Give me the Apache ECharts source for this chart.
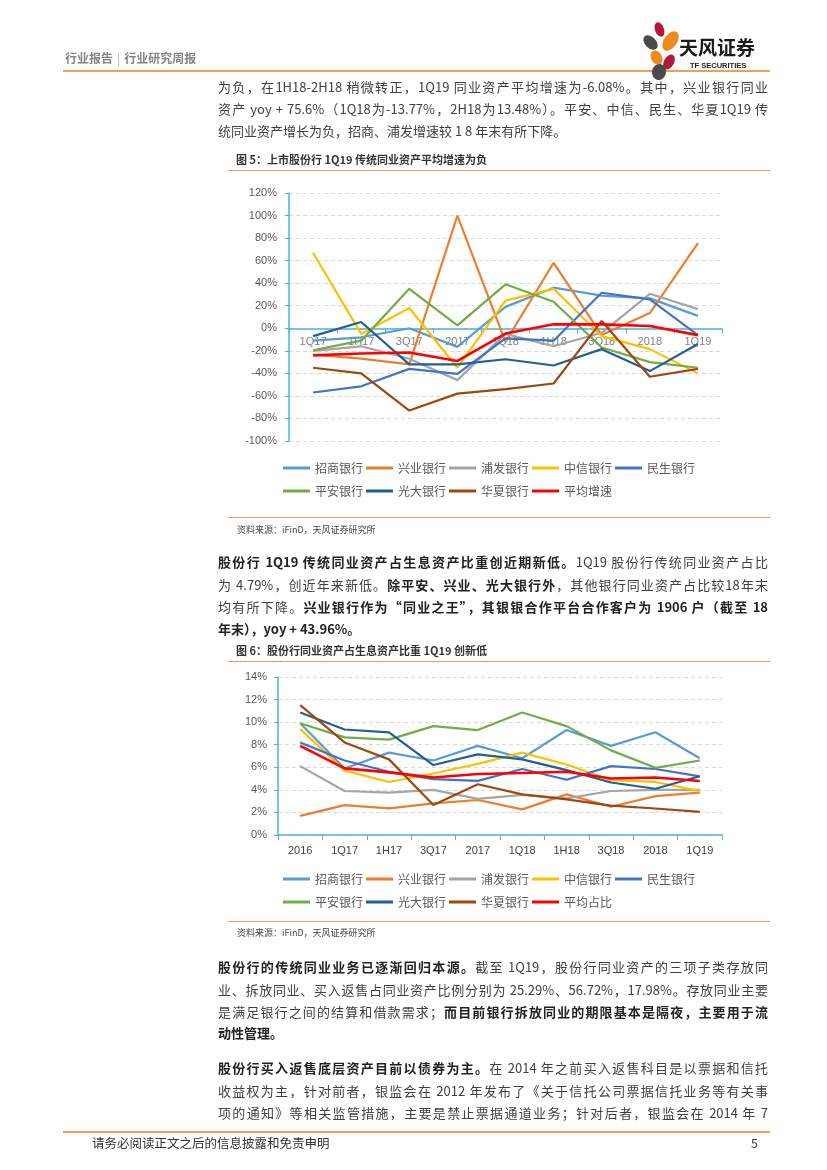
<!DOCTYPE html>
<html><head><meta charset="utf-8">
<script src="https://cdn.jsdelivr.net/npm/echarts@6/dist/echarts.min.js"></script>
<style>
html,body{margin:0;padding:0;background:#fff;}
body{width:827px;height:1170px;position:relative;overflow:hidden;font-family:"Noto Sans CJK SC","Noto Sans",sans-serif;color:#3a3a3a;}
#chart{position:absolute;left:0;top:0;width:827px;height:1170px;z-index:0;}
.t{position:absolute;z-index:2;white-space:nowrap;}
.ln{position:absolute;left:218px;width:550px;font-size:13px;line-height:20px;height:20px;white-space:nowrap;color:#404040;}
.j{text-align:justify;text-align-last:justify;}
b{color:#222;font-weight:bold;}
.hr{position:absolute;z-index:2;height:0;border-top:1.5px solid #F09A4C;}
.ftitle{position:absolute;left:236px;font-size:11px;font-weight:bold;color:#333;z-index:2;line-height:14px;}
.src{position:absolute;left:237px;font-size:9px;color:#444;z-index:2;line-height:12px;}
.pet{position:absolute;border-radius:50%;z-index:2;}
</style></head>
<body>
<div id="chart"></div>

<!-- header -->
<div class="t" style="left:65px;top:50px;font-size:12px;font-weight:bold;color:#858585;line-height:16px;">行业报告<span style="font-weight:normal;color:#aaa;margin:0 4px;">|</span>行业研究周报</div>
<div class="hr" style="left:63px;top:70px;width:707px;border-top:2px solid #F0A04E;"></div>
<!-- logo -->
<div class="pet" style="left:655px;top:22px;width:9px;height:15px;background:#B5173A;transform:rotate(-20deg);"></div>
<div class="pet" style="left:664px;top:30px;width:13px;height:22px;background:#F08A1C;transform:rotate(35deg);"></div>
<div class="pet" style="left:645px;top:34px;width:11px;height:17px;background:#4A4A4A;transform:rotate(-45deg);"></div>
<div class="pet" style="left:651px;top:50px;width:11px;height:15px;background:#F08A1C;transform:rotate(-30deg);"></div>
<div class="pet" style="left:664px;top:54px;width:10px;height:16px;background:#B5173A;transform:rotate(30deg);"></div>
<div class="pet" style="left:652px;top:64px;width:14px;height:16px;background:#4A4A4A;transform:rotate(10deg);"></div>
<div class="t" style="left:679px;top:35px;font-size:19px;font-weight:bold;color:#1a1a1a;line-height:24px;letter-spacing:0px;">天风证券</div>
<div class="t" style="left:690px;top:61px;font-size:7.5px;font-weight:bold;color:#222;line-height:10px;font-family:'Liberation Sans',sans-serif;">TF SECURITIES</div>

<!-- paragraph 1 -->
<div class="ln j" style="top:77px;">为负，在1H18-2H18 稍微转正，1Q19 同业资产平均增速为-6.08%。其中，兴业银行同业</div>
<div class="ln j" style="top:99px;">资产 yoy + 75.6%（1Q18为-13.77%，2H18为13.48%）。平安、中信、民生、华夏1Q19 传</div>
<div class="ln" style="top:121px;">统同业资产增长为负，招商、浦发增速较 1 8 年末有所下降。</div>

<div class="ftitle" style="top:152px;">图 5：上市股份行 1Q19 传统同业资产平均增速为负</div>
<div class="hr" style="left:228px;top:170px;width:542px;"></div>
<div class="hr" style="left:228px;top:517px;width:542px;"></div>
<div class="src" style="top:524px;">资料来源：iFinD，天风证券研究所</div>

<!-- paragraph 2 -->
<div class="ln j" style="top:552px;"><b>股份行 1Q19 传统同业资产占生息资产比重创近期新低。</b>1Q19 股份行传统同业资产占比</div>
<div class="ln j" style="top:575px;">为 4.79%，创近年来新低。<b>除平安、兴业、光大银行外</b>，其他银行同业资产占比较18年末</div>
<div class="ln j" style="top:597px;">均有所下降。<b>兴业银行作为“同业之王”，其银银合作平台合作客户为 1906 户（截至 18</b></div>
<div class="ln" style="top:619px;"><b>年末），yoy + 43.96%。</b></div>

<div class="ftitle" style="top:643px;">图 6：股份行同业资产占生息资产比重 1Q19 创新低</div>
<div class="hr" style="left:228px;top:661px;width:542px;"></div>
<div class="hr" style="left:228px;top:921px;width:542px;"></div>
<div class="src" style="top:927px;">资料来源：iFinD，天风证券研究所</div>

<!-- paragraph 3 -->
<div class="ln j" style="top:957px;"><b>股份行的传统同业业务已逐渐回归本源。</b>截至 1Q19，股份行同业资产的三项子类存放同</div>
<div class="ln j" style="top:980px;">业、拆放同业、买入返售占同业资产比例分别为 25.29%、56.72%，17.98%。存放同业主要</div>
<div class="ln j" style="top:1002px;">是满足银行之间的结算和借款需求；<b>而目前银行拆放同业的期限基本是隔夜，主要用于流</b></div>
<div class="ln" style="top:1023px;"><b>动性管理。</b></div>

<!-- paragraph 4 -->
<div class="ln j" style="top:1058px;"><b>股份行买入返售底层资产目前以债券为主。</b>在 2014 年之前买入返售科目是以票据和信托</div>
<div class="ln j" style="top:1081px;">收益权为主，针对前者，银监会在 2012 年发布了《关于信托公司票据信托业务等有关事</div>
<div class="ln j" style="top:1103px;">项的通知》等相关监管措施，主要是禁止票据通道业务；针对后者，银监会在 2014 年 7</div>

<!-- footer -->
<div class="hr" style="left:63px;top:1131px;width:707px;border-top:2px solid #F0A04E;"></div>
<div class="t" style="left:92px;top:1135px;font-size:12.5px;color:#333;line-height:16px;">请务必阅读正文之后的信息披露和免责申明</div>
<div class="t" style="left:751px;top:1135px;font-size:12.5px;color:#333;line-height:16px;">5</div>

<script>
// ---------- data ----------
const cats1 = ['1Q17','1H17','3Q17','2017','1Q18','1H18','3Q18','2018','1Q19'];
const cats2 = ['2016','1Q17','1H17','3Q17','2017','1Q18','1H18','3Q18','2018','1Q19'];
const bankNames = ['招商银行','兴业银行','浦发银行','中信银行','民生银行','平安银行','光大银行','华夏银行'];
const avgName1 = '平均增速';
const avgName2 = '平均占比';
const yTicks1 = { min: -100, max: 120, interval: 20 };
const yTicks2 = { min: 0, max: 14, interval: 2 };

// Fig 5: growth of traditional interbank assets (%)
const cmb1   = [-11, -8, 0, -16.5, 19, 36, 29, 26.5, 11];
const cib1   = [-23.5, -27, -32, 100, -12, 58, -6, 13.48, 75.6];
const spdb1  = [-20, -16, -27, -46, -5, -16, -4, 30.6, 17];
const citic1 = [67, -5, 18, -35, 24.5, 35, -7, -18.5, -40];
const cmbc1  = [-57, -51.5, -36, -40.5, -9, -11, 31.5, 25.6, -6];
const pab1   = [-19.5, -11, 35, 2.6, 39, 23.5, -17, -30, -35];
const ceb1   = [-7, 5.6, -32, -32, -27.5, -33, -18.5, -38, -14];
const hxb1   = [-35, -40, -73, -58, -54, -49, 6.5, -43, -36];
const avg1   = [-24, -22.4, -21.5, -29, -4.7, 3.5, 3.5, 2, -6.08];

// Fig 6: share of interbank assets in interest-earning assets (%)
const cmb2   = [9.9, 5.9, 7.3, 6.6, 7.9, 6.8, 9.3, 7.9, 9.1, 6.8];
const cib2   = [1.7, 2.65, 2.36, 2.8, 3.1, 2.27, 3.6, 2.5, 3.45, 3.75];
const spdb2  = [6.1, 3.9, 3.75, 4.0, 3.2, 3.55, 3.25, 3.9, 4.0, 4.0];
const citic2 = [9.4, 5.7, 4.7, 5.45, 6.3, 7.3, 6.25, 4.85, 4.7, 3.9];
const cmbc2  = [8.2, 6.6, 5.6, 4.95, 4.8, 5.85, 4.9, 6.1, 5.85, 5.2];
const pab2   = [9.9, 8.65, 8.45, 9.65, 9.3, 10.85, 9.65, 7.5, 5.95, 6.6];
const ceb2   = [10.85, 9.35, 9.1, 6.2, 7.15, 6.7, 5.75, 4.65, 4.1, 5.2];
const hxb2   = [11.5, 8.2, 6.7, 2.65, 4.5, 3.6, 3.15, 2.6, 2.35, 2.05];
const avg2   = [7.9, 5.9, 5.55, 5.1, 5.4, 5.5, 5.6, 5.0, 5.1, 4.79];

// ---------- styles ----------
const colors = ['#5B9BD5','#ED7D31','#A5A5A5','#FFC000','#4472C4','#70AD47','#255E91','#9E480E','#FF0000'];
const axisBlue = '#4DB3E6';
const FONT = '"Noto Sans CJK SC","Liberation Sans",sans-serif';

const grid1 = { left: 289, top: 193, width: 433, height: 248 };
const grid2 = { left: 278, top: 677, width: 444, height: 158 };
// move chart-1 category axis up to the 0% level
const zeroOffset1 = -(0 - yTicks1.min) / (yTicks1.max - yTicks1.min) * grid1.height;

const data1 = [cmb1, cib1, spdb1, citic1, cmbc1, pab1, ceb1, hxb1, avg1];
const data2 = [cmb2, cib2, spdb2, citic2, cmbc2, pab2, ceb2, hxb2, avg2];
const names1 = bankNames.concat([avgName1]);
const names2 = bankNames.concat([avgName2]);

const series = [];
names1.forEach((n, i) => series.push({
  name: n, type: 'line', xAxisIndex: 0, yAxisIndex: 0, data: data1[i],
  symbol: 'none', lineStyle: { width: i === 8 ? 2.6 : 2.2, color: colors[i] }, itemStyle: { color: colors[i] },
  z: 2 + i, animation: false
}));
names2.forEach((n, i) => series.push({
  name: n, type: 'line', xAxisIndex: 1, yAxisIndex: 1, data: data2[i],
  symbol: 'none', lineStyle: { width: i === 8 ? 2.6 : 2.2, color: colors[i] }, itemStyle: { color: colors[i] },
  z: 2 + i, animation: false
}));

const legendBase = {
  orient: 'horizontal', icon: 'rect', itemWidth: 27, itemHeight: 3, itemGap: 3, padding: 0,
  textStyle: { fontSize: 12, color: '#595959', fontFamily: FONT, lineHeight: 14 },
  selectedMode: false
};

const option = {
  animation: false,
  textStyle: { fontFamily: FONT },
  grid: [
    Object.assign({ containLabel: false }, grid1),
    Object.assign({ containLabel: false }, grid2)
  ],
  xAxis: [
    { type: 'category', gridIndex: 0, data: cats1, boundaryGap: true, position: 'bottom', offset: zeroOffset1,
      axisLine: { show: true, onZero: false, lineStyle: { color: axisBlue, width: 1.5 } },
      axisTick: { show: true, length: 5, lineStyle: { color: axisBlue } },
      axisLabel: { color: '#808080', fontSize: 11, margin: 8, fontFamily: '"Liberation Sans",sans-serif' } },
    { type: 'category', gridIndex: 1, data: cats2, boundaryGap: true,
      axisLine: { show: true, lineStyle: { color: axisBlue, width: 1.5 } },
      axisTick: { show: true, length: 5, lineStyle: { color: axisBlue } },
      axisLabel: { color: '#404040', fontSize: 11, margin: 10, fontFamily: '"Liberation Sans",sans-serif' } }
  ],
  yAxis: [
    { type: 'value', gridIndex: 0, min: yTicks1.min, max: yTicks1.max, interval: yTicks1.interval,
      axisLine: { show: true, lineStyle: { color: axisBlue, width: 1.5 } },
      axisTick: { show: true, length: 4, lineStyle: { color: axisBlue } },
      axisLabel: { formatter: '{value}%', color: '#595959', fontSize: 11, margin: 12, fontFamily: '"Liberation Sans",sans-serif' },
      splitLine: { show: true, lineStyle: { color: '#D9D9D9', type: [4, 3], width: 1 } } },
    { type: 'value', gridIndex: 1, min: yTicks2.min, max: yTicks2.max, interval: yTicks2.interval,
      axisLine: { show: true, lineStyle: { color: axisBlue, width: 1.5 } },
      axisTick: { show: true, length: 4, lineStyle: { color: axisBlue } },
      axisLabel: { formatter: '{value}%', color: '#595959', fontSize: 11, margin: 11, fontFamily: '"Liberation Sans",sans-serif' },
      splitLine: { show: true, lineStyle: { color: '#D9D9D9', type: [4, 3], width: 1 } } }
  ],
  legend: [
    Object.assign({}, legendBase, { data: bankNames.slice(0, 5), left: 283, top: 461 }),
    Object.assign({}, legendBase, { data: bankNames.slice(5).concat([avgName1]), left: 283, top: 484 }),
    Object.assign({}, legendBase, { data: bankNames.slice(0, 5), left: 283, top: 872 }),
    Object.assign({}, legendBase, { data: bankNames.slice(5).concat([avgName2]), left: 283, top: 895 })
  ],
  series: series
};

const chart = echarts.init(document.getElementById('chart'), null, { renderer: 'canvas' });
chart.setOption(option);
</script>
</body></html>
